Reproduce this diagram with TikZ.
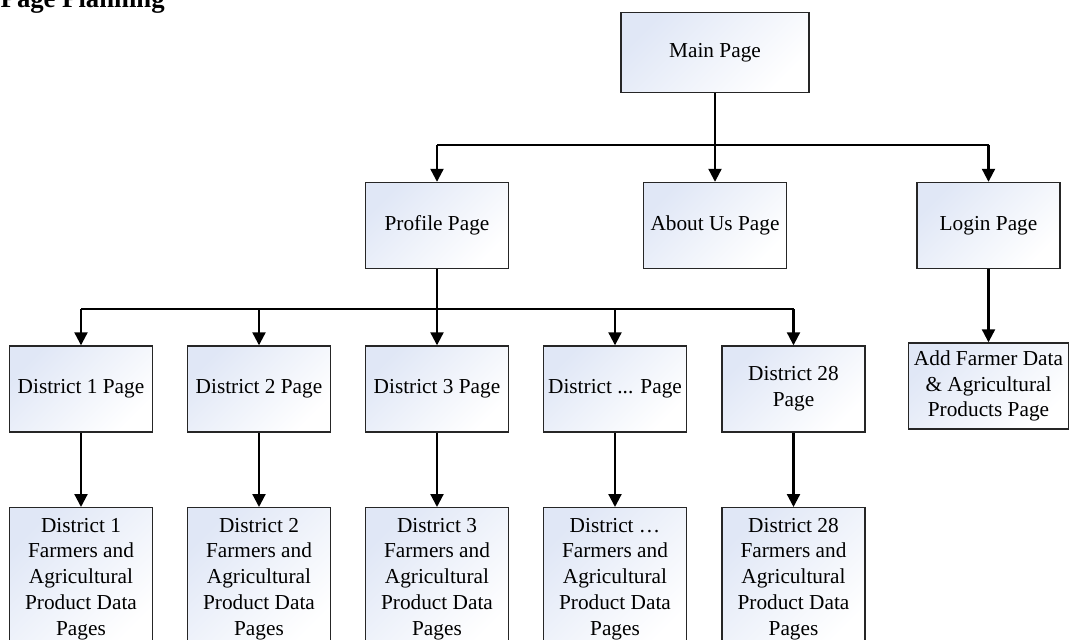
\documentclass[tikz,border=0pt]{standalone}
\usepackage{fontspec}
\setmainfont{Liberation Serif}
\usetikzlibrary{arrows.meta}
\definecolor{boxtint}{RGB}{224,231,246}
\definecolor{boxline}{RGB}{38,38,38}
\begin{document}
\begin{tikzpicture}[x=1pt, y={(0pt,-1pt)},
  pagebox/.style={draw=boxline, line width=1.4pt, top color=boxtint, bottom color=white,
    shading angle=45, inner sep=0pt, align=center,
    font=\fontsize{21.3}{25.9}\selectfont},
  midbox/.style={pagebox, minimum width=143pt, minimum height=86pt},
  databox/.style={pagebox, minimum width=143pt, anchor=north, inner ysep=10.2pt},
  link/.style={line width=2.2pt, draw=black},
  tolink/.style={link, -{Triangle[length=13pt,width=13pt]}}
]
\useasboundingbox (0,0) rectangle (1069,640);
\clip (0,0) rectangle (1069,640);

% title, partly above the page edge
\node[anchor=base west, inner sep=0pt, font=\bfseries\fontsize{26.7}{30}\selectfont]
  (title) at (0.5,7.5) {Page Planning};

% top level
\node[pagebox, minimum width=188pt, minimum height=80pt] (main) at (715,52.7) {Main Page};

% second level
\node[midbox] (profile) at (437,225.5) {Profile Page};
\node[midbox] (about)   at (715,225.5) {About Us Page};
\node[midbox] (login)   at (988.5,225.5) {Login Page};

% district pages
\node[midbox] (d1)  at (81,389)    {District 1 Page};
\node[midbox] (d2)  at (259,389)   {District 2 Page};
\node[midbox] (d3)  at (437,389)   {District 3 Page};
\node[midbox] (dx)  at (615,389)   {District ... Page};
\node[midbox] (d28) at (793.5,389) {District 28\\Page};

\node[pagebox, minimum width=160pt, minimum height=86pt] (add) at (988.5,386)
  {Add Farmer Data\\\& Agricultural\\Products Page};

% farmer and product data pages
\node[databox] (f1)  at (81,507)    {District 1\\Farmers and\\Agricultural\\Product Data\\Pages};
\node[databox] (f2)  at (259,507)   {District 2\\Farmers and\\Agricultural\\Product Data\\Pages};
\node[databox] (f3)  at (437,507)   {District 3\\Farmers and\\Agricultural\\Product Data\\Pages};
\node[databox] (fx)  at (615,507)   {District …\\Farmers and\\Agricultural\\Product Data\\Pages};
\node[databox] (f28) at (793.5,507) {District 28\\Farmers and\\Agricultural\\Product Data\\Pages};

% bus lines
\coordinate (busA) at (0,145);
\coordinate (busB) at (0,309.3);

\draw[tolink] (main.south) -- (about.north);
\draw[link] (busA -| profile.north) -- (busA -| login.north);
\draw[tolink] (busA -| profile.north) -- (profile.north);
\draw[tolink] (busA -| login.north) -- (login.north);

\draw[tolink] (profile.south) -- (d3.north);
\draw[link] (busB -| d1.north) -- (busB -| d28.north);
\foreach \d in {d1,d2,dx,d28}
  \draw[tolink] (busB -| \d.north) -- (\d.north);

\draw[tolink] (login.south) -- (add.north);

\draw[tolink] (d1.south) -- (f1.north);
\draw[tolink] (d2.south) -- (f2.north);
\draw[tolink] (d3.south) -- (f3.north);
\draw[tolink] (dx.south) -- (fx.north);
\draw[tolink] (d28.south) -- (f28.north);
\end{tikzpicture}
\end{document}
